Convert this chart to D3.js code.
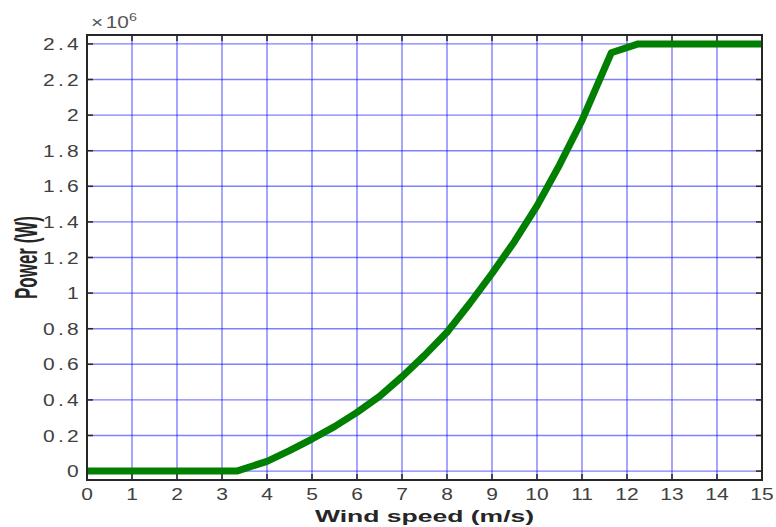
<!DOCTYPE html>
<html>
<head>
<meta charset="utf-8">
<script src="https://cdn.jsdelivr.net/npm/d3@7"></script>
<style>
  body { margin: 0; background: #fff; }
  svg { display: block; }
  text { font-family: "Liberation Sans", Arial, sans-serif; }
</style>
</head>
<body>
<svg id="chart" width="776" height="527"></svg>
<script>
// wind speed (m/s) and power (x 10^6 W)
var windSpeed = [0, 1, 2, 3, 3.33, 4, 4.5, 5, 5.5, 6, 6.5, 7, 7.5, 8, 8.5, 9, 9.5, 10, 10.5, 11, 11.65, 12.25, 13, 14, 15];
var powerMW   = [0, 0, 0, 0, 0, 0.055, 0.115, 0.18, 0.25, 0.33, 0.42, 0.53, 0.65, 0.78, 0.94, 1.11, 1.29, 1.49, 1.72, 1.97, 2.35, 2.4, 2.4, 2.4, 2.4];
var xTicks = d3.range(0, 16, 1);
var yTicks = [0, 0.2, 0.4, 0.6, 0.8, 1, 1.2, 1.4, 1.6, 1.8, 2, 2.2, 2.4];

var plotL = 87, plotR = 762, plotT = 35, plotB = 480;

var svg = d3.select("#chart");

var x = d3.scaleLinear().domain([0, 15]).range([plotL, plotR]);
var y = d3.scaleLinear().domain([-0.05, 2.45]).range([plotB, plotT]);

// grid
svg.append("g").selectAll("line").data(xTicks).enter().append("line")
  .attr("x1", function(d){ return x(d); }).attr("x2", function(d){ return x(d); })
  .attr("y1", plotT).attr("y2", plotB)
  .attr("stroke", "#0000ff").attr("stroke-opacity", 0.5).attr("stroke-width", 1.4);
svg.append("g").selectAll("line").data(yTicks).enter().append("line")
  .attr("y1", function(d){ return y(d); }).attr("y2", function(d){ return y(d); })
  .attr("x1", plotL).attr("x2", plotR)
  .attr("stroke", "#0000ff").attr("stroke-opacity", 0.5).attr("stroke-width", 1.4);

// ticks (inside, on all four sides)
var tickLen = 6;
var tk = svg.append("g").attr("stroke", "#262626").attr("stroke-width", 1.5);
xTicks.forEach(function(d){
  tk.append("line").attr("x1", x(d)).attr("x2", x(d)).attr("y1", plotB).attr("y2", plotB - tickLen);
  tk.append("line").attr("x1", x(d)).attr("x2", x(d)).attr("y1", plotT).attr("y2", plotT + tickLen);
});
yTicks.forEach(function(d){
  tk.append("line").attr("y1", y(d)).attr("y2", y(d)).attr("x1", plotL).attr("x2", plotL + tickLen);
  tk.append("line").attr("y1", y(d)).attr("y2", y(d)).attr("x1", plotR).attr("x2", plotR - tickLen);
});

// power curve
var line = d3.line()
  .x(function(d, i){ return x(windSpeed[i]); })
  .y(function(d){ return y(d); });
svg.append("path").datum(powerMW)
  .attr("d", line)
  .attr("fill", "none")
  .attr("stroke", "#007f00")
  .attr("stroke-width", 7)
  .attr("stroke-linejoin", "round");

// frame
svg.append("rect")
  .attr("x", plotL).attr("y", plotT)
  .attr("width", plotR - plotL).attr("height", plotB - plotT)
  .attr("fill", "none").attr("stroke", "#262626").attr("stroke-width", 2);

// tick labels (the source image is stretched sideways)
var sx = 1.31;
svg.append("g").selectAll("text").data(xTicks).enter().append("text")
  .attr("transform", function(d){ return "translate(" + x(d) + ",500) scale(" + sx + ",1)"; })
  .attr("text-anchor", "middle")
  .attr("font-size", 16)
  .attr("fill", "#404040")
  .text(function(d){ return d; });

svg.append("g").selectAll("text").data(yTicks).enter().append("text")
  .attr("transform", function(d){ return "translate(82," + (y(d) + 6) + ") scale(" + sx + ",1)"; })
  .attr("text-anchor", "end")
  .attr("font-size", 16)
  .attr("letter-spacing", 2.5)
  .attr("fill", "#404040")
  .text(function(d){ return d; });

// exponent label
var ex = svg.append("text")
  .attr("transform", "translate(91,28) scale(1.3,1)")
  .attr("font-size", 16)
  .attr("fill", "#555");
ex.append("tspan").text("\u00d7");
ex.append("tspan").attr("dx", 2).text("10");
ex.append("tspan").attr("dy", -7).attr("font-size", 11).text("6");

// axis titles
svg.append("text")
  .attr("transform", "translate(" + ((plotL + plotR) / 2) + ",522) scale(1.56,1)")
  .attr("text-anchor", "middle")
  .attr("font-size", 17)
  .attr("font-weight", "bold")
  .attr("fill", "#262626")
  .text("Wind speed (m/s)");

svg.append("text")
  .attr("transform", "translate(37," + ((plotT + plotB) / 2) + ") scale(1.9,1) rotate(-90)")
  .attr("text-anchor", "middle")
  .attr("font-size", 17)
  .attr("font-weight", "bold")
  .attr("fill", "#262626")
  .text("Power (W)");
</script>
</body>
</html>
